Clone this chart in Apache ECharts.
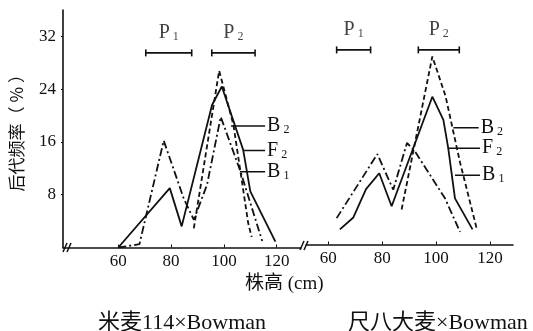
<!DOCTYPE html>
<html>
<head>
<meta charset="utf-8">
<script src="https://cdn.jsdelivr.net/npm/echarts@6/dist/echarts.min.js"></script>
<style>html,body{margin:0;background:#fff}#chart{width:533px;height:331px}</style>
</head>
<body>
<div id="chart"></div>
<script>
// left panel: 米麦114 x Bowman  ([株高 cm, 频率 %])
const leftF2 = [[60, 0], [79.5, 9], [84, 3.2], [95.5, 21.6], [99.2, 24.4], [107.3, 14.8], [110, 8.5], [119.5, 0.9]];
const leftB1 = [[60, 0], [68, 0.5], [77.2, 16.2], [84.8, 7.4], [88.6, 4.2], [93.6, 9.5], [98.8, 19.8], [106.3, 11.5], [114.5, 1]];
const leftB2 = [[88.6, 2.9], [98.2, 26.8], [103.6, 18.6], [109.2, 3.7], [110.5, 1.6]];
// right panel: 尺八大麦 x Bowman
const rightF2 = [[64.3, 2.3], [69.3, 4.1], [74, 8.4], [78.9, 10.8], [83.5, 5.8], [98.6, 22.4], [102.7, 18.9], [104.5, 14.6], [107, 7], [113.5, 2.3]];
const rightB1 = [[63.1, 4], [78.2, 13.7], [84.1, 8.3], [89.2, 15.4], [92.2, 14.1], [103.3, 7], [108.9, 1.9]];
const rightB2 = [[87.2, 5.3], [98.6, 28.5], [103.5, 22.5], [108.9, 12.4], [115, 2.5]];
// parent height ranges
const leftP1 = [70.4, 87.8];
const leftP2 = [95.4, 111.8];
const rightP1 = [63.1, 75.7];
const rightP2 = [93.4, 108.6];
const rangeLevel = 29.5;
const xTicks = [60, 80, 100, 120];
const yTicks = [8, 16, 24, 32];
// curve labels: [letter, subscript, leader from x, leader to x, y]
const leftTags = [['B', '2', 102.7, 115.6, 18.4], ['F', '2', 107.2, 115.6, 14.7], ['B', '1', 106.1, 115.6, 11.5]];
const rightTags = [['B', '2', 106.4, 115.8, 17.7], ['F', '2', 104.5, 116.3, 14.6], ['B', '1', 107, 116.3, 10.5]];

const ink = '#111';
const serif = '"Liberation Serif", "DejaVu Serif", serif';
const mixed = '"Liberation Serif", "Noto Sans CJK SC", serif';
const cjk = '"Noto Sans CJK SC", sans-serif';
const richSub = {
  p: {fontFamily: serif, fontSize: 20, color: ink},
  s: {fontFamily: serif, fontSize: 12, color: ink, verticalAlign: 'bottom', padding: [0, 0, 0, 3]}
};

function curve(data, gi, dash) {
  return {
    type: 'line', xAxisIndex: gi, yAxisIndex: gi, data, symbol: 'none', z: 3,
    lineStyle: {color: ink, width: 1.8, type: dash}
  };
}

function range(r, name, sub, gi) {
  return [{
    type: 'line', xAxisIndex: gi, yAxisIndex: gi,
    data: r.map(x => [x, rangeLevel]),
    symbol: 'rect', symbolSize: [1.6, 7],
    itemStyle: {color: ink}, lineStyle: {color: ink, width: 1.8}
  }, {
    type: 'scatter', xAxisIndex: gi, yAxisIndex: gi, symbolSize: 0,
    data: [[(r[0] + r[1]) / 2, rangeLevel]],
    label: {show: true, position: 'top', distance: 10, formatter: `{p|${name}}{s|${sub}}`, rich: richSub}
  }];
}

function tags(list, gi) {
  return list.map(([a, b, x0, x1, y]) => ({
    type: 'line', xAxisIndex: gi, yAxisIndex: gi, symbol: 'none',
    lineStyle: {color: ink, width: 1.5},
    data: [[x0, y], [x1, y]],
    endLabel: {show: true, distance: 2, formatter: `{p|${a}}{s|${b}}`, rich: richSub}
  }));
}

function xAxis(gi, min, max) {
  return {
    type: 'value', gridIndex: gi, min, max,
    axisLine: {show: true, lineStyle: {color: ink, width: 1.6}},
    axisTick: {show: true, inside: true, length: 3, customValues: xTicks, lineStyle: {color: ink}},
    axisLabel: {customValues: xTicks, color: ink, fontFamily: serif, fontSize: 17, margin: 6},
    splitLine: {show: false}
  };
}

const chart = echarts.init(document.getElementById('chart'));
chart.setOption({
  animation: false,
  backgroundColor: '#fff',
  grid: [
    {left: 63, top: 10, width: 238, height: 237.5},
    {left: 306, top: 7, width: 207, height: 237.5}
  ],
  xAxis: [xAxis(0, 39.05, 129.2), xAxis(1, 51.73, 128.53)],
  yAxis: [{
    type: 'value', gridIndex: 0, min: 0, max: 36,
    name: '后代频率（ % ）', nameLocation: 'middle', nameRotate: 90, nameGap: 38,
    nameTextStyle: {fontFamily: cjk, fontSize: 17, color: ink},
    axisLine: {show: true, lineStyle: {color: ink, width: 1.6}},
    axisTick: {show: true, length: 2, customValues: yTicks, lineStyle: {color: ink}},
    axisLabel: {customValues: yTicks, color: ink, fontFamily: serif, fontSize: 17, margin: 7},
    splitLine: {show: false}
  }, {
    type: 'value', gridIndex: 1, min: 0, max: 36, show: false, splitLine: {show: false}
  }],
  series: [
    curve(leftF2, 0, 'solid'),
    curve(leftB1, 0, [8, 3, 2, 3]),
    curve(leftB2, 0, [5, 3]),
    curve(rightF2, 1, 'solid'),
    curve(rightB1, 1, [8, 3, 2, 3]),
    curve(rightB2, 1, [5, 3]),
    ...range(leftP1, 'P', '1', 0),
    ...range(leftP2, 'P', '2', 0),
    ...range(rightP1, 'P', '1', 1),
    ...range(rightP2, 'P', '2', 1),
    ...tags(leftTags, 0),
    ...tags(rightTags, 1)
  ],
  graphic: [
    {type: 'line', shape: {x1: 63, y1: 252, x2: 67, y2: 243}, style: {stroke: ink, lineWidth: 1.5}},
    {type: 'line', shape: {x1: 67, y1: 252, x2: 71, y2: 243}, style: {stroke: ink, lineWidth: 1.5}},
    {type: 'line', shape: {x1: 300, y1: 250, x2: 304, y2: 241}, style: {stroke: ink, lineWidth: 1.5}},
    {type: 'line', shape: {x1: 304, y1: 250, x2: 308, y2: 241}, style: {stroke: ink, lineWidth: 1.5}},
    {type: 'text', left: 245, top: 275, style: {text: '株高 (cm)', font: `19px ${mixed}`, fill: ink}},
    {type: 'text', left: 98, top: 312, style: {text: '米麦114×Bowman', font: `22px ${mixed}`, fill: ink}},
    {type: 'text', left: 348, top: 312, style: {text: '尺八大麦×Bowman', font: `22px ${mixed}`, fill: ink}}
  ]
});
</script>
</body>
</html>
